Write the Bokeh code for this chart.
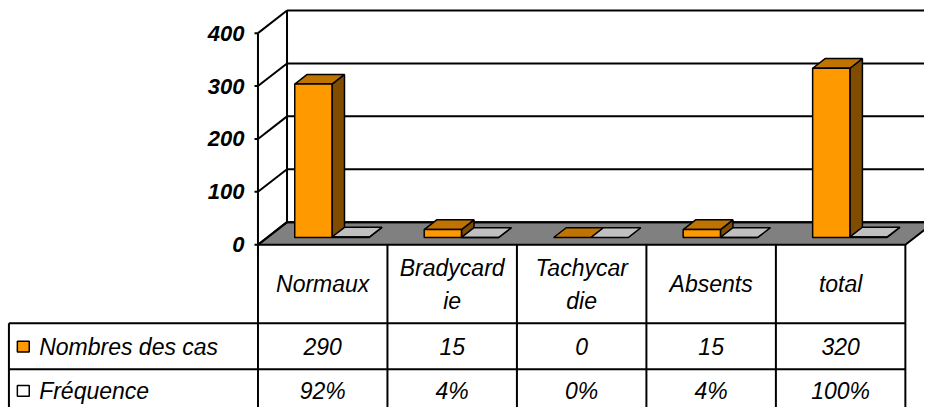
from bokeh.plotting import figure
from bokeh.models import Range1d
from bokeh.core.properties import value
from bokeh.embed import file_html
from bokeh.resources import INLINE

# ---------------- data ----------------
categories = ["Normaux", "Bradycardie", "Tachycardie", "Absents", "total"]
header_lines = [["Normaux"], ["Bradycard", "ie"], ["Tachycar", "die"], ["Absents"], ["total"]]
nombres = [290, 15, 0, 15, 320]
frequence = [0.92, 0.04, 0.0, 0.04, 1.00]
series_names = ["Nombres des cas", "Fréquence"]
y_ticks = [0, 100, 200, 300, 400]

# ---------------- layout constants (reference pixels) ----------------
W, H = 924, 407
REF_W, REF_H = 932, 415
CAT_PX = 130.6      # px per category
CAT0_PX = 325.0     # px of first category centre
ZERO_PX = 249.0     # px of value 0 on front plane
UNIT_PX = 0.5393    # px per value unit


def hx(px):
    return (px - CAT0_PX) / CAT_PX


def vy(py):
    return (ZERO_PX - py) / UNIT_PX


def dxp(d):
    return d / CAT_PX


def dyp(d):
    return d / UNIT_PX


DX, DY = dxp(29.3), dyp(23.0)   # full floor depth offset
F0, F1 = 0.32, 0.75             # bar depth span
BW = dxp(37.6)                  # bar width
XL, XR = -0.5, len(categories) - 0.5
YMAX = max(y_ticks)


def P(x, v, f):
    return x + f * DX, v + f * DY


FONT = value("Liberation Sans")

p = figure(width=W, height=H, output_backend="svg", toolbar_location=None,
           x_range=Range1d(hx(0), hx(REF_W)), y_range=Range1d(vy(REF_H), vy(0)),
           x_axis_type=None, y_axis_type=None, min_border=0,
           outline_line_color=None, background_fill_color="white",
           border_fill_color="white")
p.grid.visible = False

LW = 2

# floor
fx, fy = zip(P(XL, 0, 0), P(XR, 0, 0), P(XR, 0, 1), P(XL, 0, 1))
p.patch(list(fx), list(fy), fill_color="#808080", line_color="black", line_width=LW)

# back wall grid lines + left wall diagonals + front axis
gx0, gy0, gx1, gy1 = [], [], [], []
for t in y_ticks:
    a = P(XL, t, 1)
    b = P(XR + 1, t, 1)
    gx0.append(a[0]); gy0.append(a[1]); gx1.append(b[0]); gy1.append(b[1])
    c = P(XL, t, 0)
    gx0.append(c[0]); gy0.append(c[1]); gx1.append(a[0]); gy1.append(a[1])
    gx0.append(XL - dxp(3.5)); gy0.append(t); gx1.append(XL); gy1.append(t)
a0, a1 = P(XL, 0, 1), P(XL, YMAX, 1)
gx0 += [XL, a0[0]]; gy0 += [0, a0[1]]; gx1 += [XL, a1[0]]; gy1 += [YMAX, a1[1]]
p.segment(gx0, gy0, gx1, gy1, line_color="black", line_width=LW)

# y tick labels
p.text(x=[hx(246)] * len(y_ticks), y=y_ticks, text=[str(t) for t in y_ticks],
       text_font=FONT, text_font_size="22px", text_font_style="bold italic",
       text_align="right", text_baseline="middle", text_color="black")

# bars
front_cols = ["#FF9900", "#FFFFFF"]
top_cols = ["#BF7300", "#C0C0C0"]
side_cols = ["#804C00", "#808080"]
series = [nombres, frequence]
for i in range(len(categories)):
    for s, vals in enumerate(series):
        h = vals[i]
        x0 = i - BW + s * BW
        x1 = x0 + BW
        # side
        sx, sy = zip(P(x1, 0, F0), P(x1, 0, F1), P(x1, h, F1), P(x1, h, F0))
        p.patch(list(sx), list(sy), fill_color=side_cols[s], line_color="black", line_width=1.5)
        # top
        tx, ty = zip(P(x0, h, F0), P(x1, h, F0), P(x1, h, F1), P(x0, h, F1))
        p.patch(list(tx), list(ty), fill_color=top_cols[s], line_color="black", line_width=1.5)
        # front
        if h > 0:
            p.quad(left=[x0 + F0 * DX], right=[x1 + F0 * DX], bottom=[F0 * DY],
                   top=[h + F0 * DY], fill_color=front_cols[s], line_color="black",
                   line_width=1.5)

# data table
row_b1, row_b2, row_b3 = vy(329), vy(376), vy(430)
tx0, ty0, tx1, ty1 = [], [], [], []
for k in range(len(categories) + 1):
    xk = XL + k
    tx0.append(xk); ty0.append(0); tx1.append(xk); ty1.append(row_b3)
for yy in (row_b1, row_b2):
    tx0.append(hx(8.5)); ty0.append(yy); tx1.append(XR); ty1.append(yy)
tx0.append(hx(8.5)); ty0.append(row_b1); tx1.append(hx(8.5)); ty1.append(row_b3)
p.segment(tx0, ty0, tx1, ty1, line_color="black", line_width=LW)

# header texts
hx_list, hy_list, ht_list = [], [], []
for i, lines in enumerate(header_lines):
    if len(lines) == 1:
        hx_list.append(i); hy_list.append(vy(289)); ht_list.append(lines[0])
    else:
        hx_list += [i, i]; hy_list += [vy(273), vy(306)]; ht_list += lines
p.text(x=hx_list, y=hy_list, text=ht_list, text_font=FONT, text_font_size="23px",
       text_font_style="italic", text_align="center", text_baseline="middle",
       text_color="black")

# value rows
row_y = [vy(353), vy(398)]
vals_txt = [str(v) for v in nombres]
freq_txt = ["%d%%" % round(v * 100) for v in frequence]
p.text(x=list(range(len(categories))) * 2,
       y=[row_y[0]] * len(categories) + [row_y[1]] * len(categories),
       text=vals_txt + freq_txt, text_font=FONT, text_font_size="23px",
       text_font_style="italic", text_align="center", text_baseline="middle",
       text_color="black")

# legend keys
p.quad(left=[hx(17)] * 2, right=[hx(29)] * 2,
       bottom=[ry - dyp(5.5) for ry in row_y], top=[ry + dyp(5.5) for ry in row_y],
       fill_color=front_cols, line_color="black", line_width=1.5)
p.text(x=[hx(39)] * 2, y=row_y, text=series_names, text_font=FONT,
       text_font_size="23px", text_font_style="italic", text_align="left",
       text_baseline="middle", text_color="black")

open("out.html", "w").write(file_html(p, INLINE))
